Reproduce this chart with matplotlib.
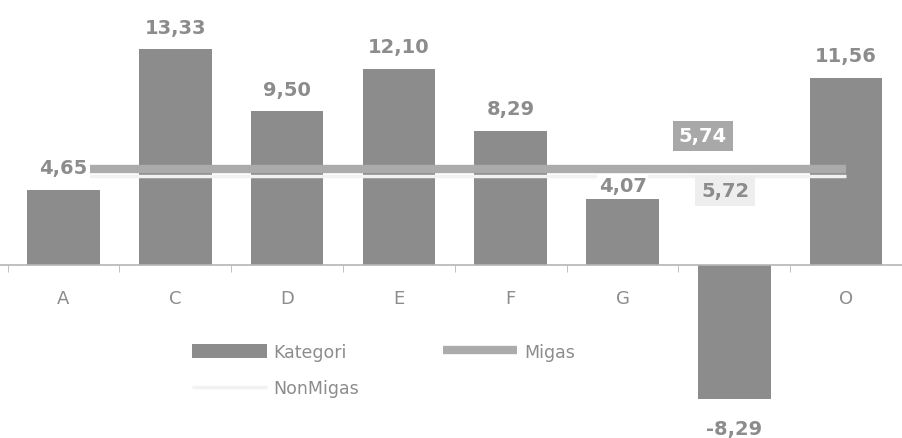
import numpy as np
import matplotlib
matplotlib.use("Agg")
import matplotlib.pyplot as plt
import matplotlib.transforms as mtransforms

# data pertumbuhan per kategori
kategori = ["A", "C", "D", "E", "F", "G", "K", "O"]
nilai = [4.65, 13.33, 9.50, 12.10, 8.29, 4.07, -8.29, 11.56]
migas = 5.74
nonmigas = 5.72

abu = "#8c8c8c"

def fmt(v):
    return ("%.2f" % v).replace(".", ",")

fig = plt.figure(figsize=(9.02, 4.39), dpi=100)
ax = fig.add_axes([0, 0, 1, 1])
x = np.arange(len(kategori))

bars = ax.bar(x, nilai, width=0.65, color=abu, label="Kategori", zorder=2)

# garis migas / nonmigas
geser = mtransforms.ScaledTranslation(0, -3 / 72, fig.dpi_scale_trans)
naik = mtransforms.ScaledTranslation(0, 2 / 72, fig.dpi_scale_trans)
ax.plot(x, [migas] * len(x), color="#ababab", lw=6, label="Migas", zorder=3,
        transform=ax.transData + naik, solid_capstyle="butt")
ax.plot(x, [nonmigas] * len(x), color="#f2f2f2", lw=2.5, label="NonMigas", zorder=4,
        transform=ax.transData + geser, solid_capstyle="butt")

# label nilai batang (latar putih menutup garis)
for xi, v in zip(x, nilai):
    kotak = dict(boxstyle="square,pad=0.1", fc="white", ec="none")
    if v >= 0:
        dy = 3 if kategori[xi] == "G" else 9
        ax.annotate(fmt(v), (xi, v), xytext=(0, dy), textcoords="offset points",
                    ha="center", va="bottom", fontsize=14, fontweight="bold", color=abu,
                    bbox=kotak, zorder=6)
    else:
        ax.annotate(fmt(v), (xi, v), xytext=(0, -14), textcoords="offset points",
                    ha="center", va="top", fontsize=14, fontweight="bold", color=abu,
                    bbox=kotak, zorder=6)

ax.annotate(fmt(migas), (5.72, migas), xytext=(0, 26), textcoords="offset points",
            ha="center", va="center", fontsize=14, fontweight="bold", color="white",
            bbox=dict(boxstyle="square,pad=0.3", fc="#a8a8a8", ec="none"), zorder=5)
ax.annotate(fmt(nonmigas), (5.92, nonmigas), xytext=(0, -13), textcoords="offset points",
            ha="center", va="center", fontsize=14, fontweight="bold", color=abu,
            bbox=dict(boxstyle="square,pad=0.3", fc="#eeeeee", ec="none"), zorder=5)

ax.set_xlim(-0.568, 7.44)
ax.set_ylim(-10.68, 16.42)

for s in ["top", "right", "left"]:
    ax.spines[s].set_visible(False)
ax.spines["bottom"].set_position(("data", 0))
ax.spines["bottom"].set_color("#b5b5b5")
ax.spines["bottom"].set_linewidth(1.2)
ax.set_yticks([])
ax.set_xticks(x)
ax.set_xticklabels(kategori, fontsize=13, color=abu)
ax.tick_params(axis="x", which="major", length=0, pad=17)
ax.set_xticks(np.arange(-0.5, len(x), 1.0), minor=True)
ax.tick_params(axis="x", which="minor", length=5, color="#b5b5b5", direction="out")
ax.get_xticklabels()[6].set_color("#7f7f7f")

h, l = ax.get_legend_handles_labels()
urut = [l.index("Kategori"), l.index("NonMigas"), l.index("Migas")]
fig.legend([h[i] for i in urut], [l[i] for i in urut], ncol=2, frameon=False,
           loc="upper left", bbox_to_anchor=(0.205, 0.232), fontsize=12.5,
           labelcolor=abu, handlelength=4.3, handleheight=0.9, handletextpad=0.4,
           columnspacing=4.8, labelspacing=1.05, borderaxespad=0)

fig.savefig("out.png", dpi=100)
